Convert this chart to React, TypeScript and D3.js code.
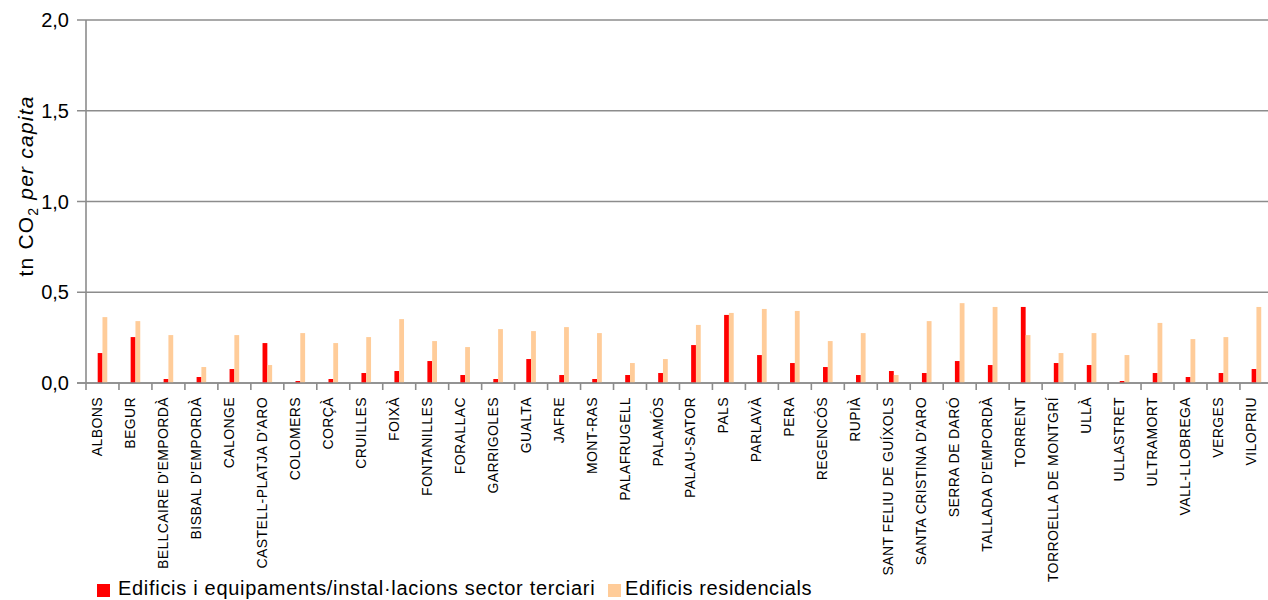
import React from "react";
import * as d3 from "d3";

const categories = [
  "ALBONS", "BEGUR", "BELLCAIRE D'EMPORDÀ", "BISBAL D'EMPORDÀ", "CALONGE",
  "CASTELL-PLATJA D'ARO", "COLOMERS", "CORÇÀ", "CRUILLES", "FOIXÀ",
  "FONTANILLES", "FORALLAC", "GARRIGOLES", "GUALTA", "JAFRE", "MONT-RAS",
  "PALAFRUGELL", "PALAMÓS", "PALAU-SATOR", "PALS", "PARLAVÀ", "PERA",
  "REGENCÓS", "RUPIÀ", "SANT FELIU DE GUÍXOLS", "SANTA CRISTINA D'ARO",
  "SERRA DE DARÓ", "TALLADA D'EMPORDÀ", "TORRENT", "TORROELLA DE MONTGRÍ",
  "ULLÀ", "ULLASTRET", "ULTRAMORT", "VALL-LLOBREGA", "VERGES", "VILOPRIU",
];

const terciari = [
  0.165, 0.253, 0.022, 0.033, 0.077, 0.22, 0.011, 0.022, 0.055, 0.066,
  0.121, 0.044, 0.022, 0.132, 0.044, 0.022, 0.044, 0.055, 0.209, 0.375,
  0.154, 0.11, 0.088, 0.044, 0.066, 0.055, 0.121, 0.099, 0.419, 0.11,
  0.099, 0.011, 0.055, 0.033, 0.055, 0.077,
];

const residencial = [
  0.363, 0.341, 0.264, 0.088, 0.264, 0.099, 0.275, 0.22, 0.253, 0.352,
  0.231, 0.198, 0.297, 0.286, 0.308, 0.275, 0.11, 0.132, 0.32, 0.386,
  0.408, 0.397, 0.231, 0.275, 0.044, 0.341, 0.44, 0.419, 0.264, 0.165,
  0.275, 0.154, 0.331, 0.242, 0.253, 0.419,
];

const yTicks = [0, 0.5, 1.0, 1.5, 2.0];
const seriesNames = [
  "Edificis i equipaments/instal·lacions sector terciari",
  "Edificis residencials",
];
const seriesColors = ["#FF0000", "#FFCC99"];

const W = 1268;
const H = 600;
const FONT = "Arial, 'Liberation Sans', sans-serif";
const GRID = "#8c8c8c";

export default function App() {
  const left = 86;
  const step = 32.97;
  const x = d3
    .scaleBand<string>()
    .domain(categories)
    .range([left, left + step * categories.length])
    .paddingInner(0)
    .paddingOuter(0);
  const y = d3.scaleLinear().domain([0, 2]).range([383, 20]);
  const barW = 4.8;
  const fmt = (v: number) => d3.format(".1f")(v).replace(".", ",");

  return (
    <svg
      width={W}
      height={H}
      style={{ position: "absolute", left: 0, top: 0, background: "#fff" }}
      fontFamily={FONT}
    >
      <rect x={0} y={0} width={W} height={H} fill="#fff" />
      {/* gridlines + y ticks */}
      {yTicks.map((t) => (
        <g key={t}>
          <line x1={77} x2={W} y1={y(t)} y2={y(t)} stroke={GRID} strokeWidth={1.6} />
          <text
            x={69}
            y={y(t)}
            dy="0.36em"
            textAnchor="end"
            fontSize={20}
            fill="#000"
          >
            {fmt(t)}
          </text>
        </g>
      ))}
      {/* y axis */}
      <line x1={left} x2={left} y1={y(2)} y2={y(0)} stroke={GRID} strokeWidth={1.6} />
      {/* x ticks */}
      {categories.map((c, i) => (
        <line
          key={"t" + i}
          x1={x(c)!}
          x2={x(c)!}
          y1={y(0)}
          y2={y(0) + 7}
          stroke={GRID}
          strokeWidth={1.6}
        />
      ))}
      {/* bars */}
      {categories.map((c, i) => {
        const cx = x(c)! + x.bandwidth() / 2;
        return (
          <g key={"b" + i}>
            <rect
              x={cx - barW}
              y={y(terciari[i])}
              width={barW}
              height={y(0) - y(terciari[i])}
              fill={seriesColors[0]}
            />
            <rect
              x={cx}
              y={y(residencial[i])}
              width={barW}
              height={y(0) - y(residencial[i])}
              fill={seriesColors[1]}
            />
          </g>
        );
      })}
      {/* baseline drawn over bars */}
      <line x1={77} x2={W} y1={y(0)} y2={y(0)} stroke={GRID} strokeWidth={1.6} />
      {/* x labels */}
      {categories.map((c, i) => {
        const cx = x(c)! + x.bandwidth() / 2 - 5.5;
        return (
          <text
            key={"l" + i}
            transform={`translate(${cx},397) rotate(-90)`}
            dy="0.36em"
            textAnchor="end"
            fontSize={14}
            letterSpacing={0.4}
            fill="#000"
          >
            {c}
          </text>
        );
      })}
      {/* y title */}
      <text
        transform={`translate(33,186) rotate(-90)`}
        textAnchor="middle"
        fontSize={21}
        letterSpacing={1.2}
        fill="#000"
      >
        <tspan>tn CO</tspan>
        <tspan fontSize={14} dy={5}>2</tspan>
        <tspan dy={-5}> </tspan>
        <tspan fontStyle="italic">per capita</tspan>
      </text>
      {/* legend */}
      <rect x={97} y={584} width={13} height={13} fill={seriesColors[0]} />
      <text x={118} y={595} fontSize={20} letterSpacing={0.7} fill="#000">
        {seriesNames[0]}
      </text>
      <rect x={608} y={584} width={13} height={13} fill={seriesColors[1]} />
      <text x={625} y={595} fontSize={20} letterSpacing={0.6} fill="#000">
        {seriesNames[1]}
      </text>
    </svg>
  );
}
